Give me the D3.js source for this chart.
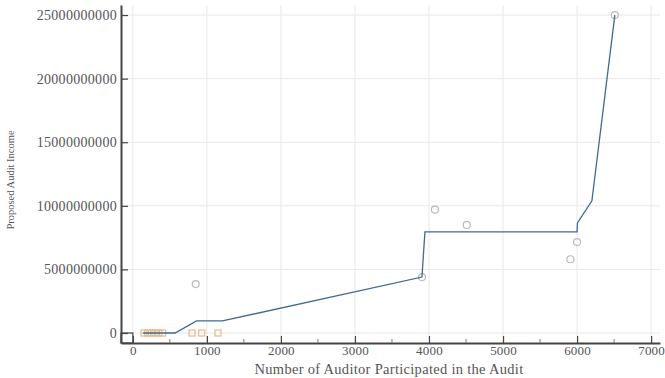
<!DOCTYPE html>
<html>
<head>
<meta charset="utf-8">
<script src="https://cdn.jsdelivr.net/npm/d3@7"></script>
<style>
  html, body { margin: 0; padding: 0; background: #fff; }
  svg { display: block; }
  text { font-family: "Liberation Serif", "DejaVu Serif", serif; fill: #555; }
</style>
</head>
<body>
<svg id="chart" width="665" height="378"></svg>
<script>
// Fitted income curve
const fitAuditors = [135, 570, 860, 1210, 3905, 3945, 6000, 6005, 6200, 6510];
const fitIncome   = [0, 0, 0.95e9, 0.95e9, 4.4e9, 7.95e9, 7.95e9, 8.65e9, 10.4e9, 25e9];

// Observed audits (grey markers)
const obsAuditors = [850, 3905, 4080, 4510, 5910, 6000, 6510];
const obsIncome   = [3.85e9, 4.4e9, 9.7e9, 8.5e9, 5.8e9, 7.15e9, 25e9];

// Small audits near zero income (tan markers)
const smallAuditors = [150, 200, 250, 300, 350, 400, 800, 930, 1150];
const smallIncome   = [0, 0, 0, 0, 0, 0, 0, 0, 0];

const xTicks = [0, 1000, 2000, 3000, 4000, 5000, 6000, 7000];
const xMinorTicks = [500, 1500, 2500, 3500, 4500, 5500, 6500];
const yTicks = [0, 5e9, 10e9, 15e9, 20e9, 25e9];

const svg = d3.select("#chart");
const x = d3.scaleLinear().domain([-160, 7120]).range([121, 660]);
const y = d3.scaleLinear().domain([-0.786e9, 25.79e9]).range([343, 5]);

// grid
const grid = svg.append("g").attr("stroke", "#e8e8e8").attr("stroke-width", 1);
grid.selectAll(".gx").data(xTicks).join("line")
  .attr("x1", d => x(d)).attr("x2", d => x(d)).attr("y1", y.range()[0]).attr("y2", y.range()[1]);
grid.selectAll(".gy").data(yTicks).join("line")
  .attr("y1", d => y(d)).attr("y2", d => y(d)).attr("x1", x.range()[0]).attr("x2", x.range()[1]);

// box at origin
svg.append("rect")
  .attr("x", x(x.domain()[0])).attr("y", y(0))
  .attr("width", x(0) - x(x.domain()[0])).attr("height", y(y.domain()[0]) - y(0))
  .attr("fill", "none").attr("stroke", "#444").attr("stroke-width", 1.2);

// tan markers
svg.append("g").selectAll("rect").data(smallAuditors).join("rect")
  .attr("x", d => x(d) - 3).attr("y", (d, i) => y(smallIncome[i]) - 3)
  .attr("width", 6).attr("height", 6)
  .attr("fill", "none").attr("stroke", "#e6b98a").attr("stroke-width", 1.2);

// grey markers
svg.append("g").selectAll("circle").data(obsAuditors).join("circle")
  .attr("cx", d => x(d)).attr("cy", (d, i) => y(obsIncome[i])).attr("r", 3.5)
  .attr("fill", "none").attr("stroke", "#bbb").attr("stroke-width", 1.2);

// fitted line
const line = d3.line().x(d => x(d[0])).y(d => y(d[1]));
svg.append("path")
  .datum(fitAuditors.map((a, i) => [a, fitIncome[i]]))
  .attr("d", line)
  .attr("fill", "none").attr("stroke", "#3f6a96").attr("stroke-width", 1.3);

// axes
const xAxis = d3.axisBottom(x).tickValues(xTicks).tickSizeInner(-7).tickSizeOuter(0)
  .tickPadding(3).tickFormat(d3.format("d"));
const gx = svg.append("g").attr("transform", `translate(0,${y.range()[0]})`).call(xAxis);
gx.select(".domain").attr("stroke", "#444").attr("stroke-width", 2);
gx.selectAll(".tick line").attr("stroke", "#444").attr("stroke-width", 1.2);
gx.selectAll(".tick text").attr("font-size", 13).attr("fill", "#555")
  .attr("font-family", "Liberation Serif, serif").style("letter-spacing", "0.2px");
svg.append("g").selectAll("line").data(xMinorTicks).join("line")
  .attr("x1", d => x(d)).attr("x2", d => x(d))
  .attr("y1", y.range()[0]).attr("y2", y.range()[0] - 4)
  .attr("stroke", "#777").attr("stroke-width", 1);

const yAxis = d3.axisLeft(y).tickValues(yTicks).tickSizeInner(-7).tickSizeOuter(0)
  .tickPadding(4).tickFormat(d3.format("d"));
const gy = svg.append("g").attr("transform", `translate(${x.range()[0]},0)`).call(yAxis);
gy.select(".domain").attr("stroke", "#444").attr("stroke-width", 2);
gy.selectAll(".tick line").attr("stroke", "#444").attr("stroke-width", 1.2);
gy.selectAll(".tick text").attr("font-size", 14).attr("fill", "#555")
  .attr("font-family", "Liberation Serif, serif").style("letter-spacing", "0.3px");

// titles
svg.append("text")
  .attr("x", 389).attr("y", 374).attr("text-anchor", "middle").attr("font-size", 14.5)
  .style("letter-spacing", "0.3px")
  .text("Number of Auditor Participated in the Audit");
svg.append("text")
  .attr("transform", "translate(14,180) rotate(-90)").attr("text-anchor", "middle").attr("font-size", 10.5)
  .text("Proposed Audit Income");
</script>
</body>
</html>
